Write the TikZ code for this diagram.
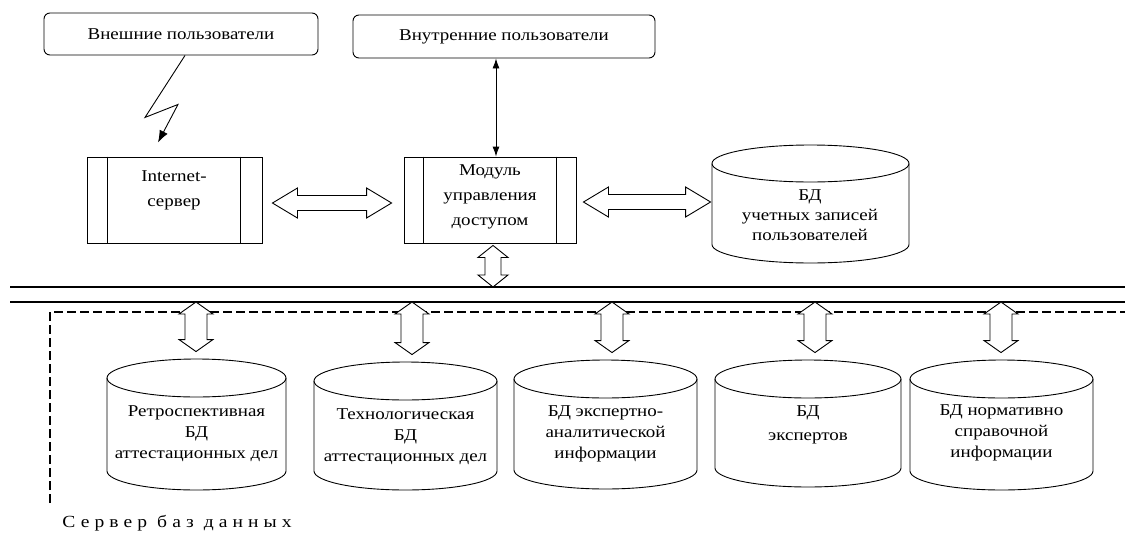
\documentclass[tikz,border=0pt]{standalone}
\usepackage{fontspec}
\setmainfont{Liberation Serif}[FakeStretch=1.15]
\usetikzlibrary{calc,arrows.meta}
\newcommand\HArr[2]{\path[hollow] let \p1=(#1), \p2=(#2) in (\x1,\y1) -- (\x1+25pt,\y1+15pt) -- (\x1+25pt,\y1+7.5pt) -- (\x2-25pt,\y2+7.5pt) -- (\x2-25pt,\y2+15pt) -- (\x2,\y2) -- (\x2-25pt,\y2-15pt) -- (\x2-25pt,\y2-7.5pt) -- (\x1+25pt,\y1-7.5pt) -- (\x1+25pt,\y1-15pt) -- cycle;}
\newcommand\VArr[4]{\path[hollow] let \p1=(#1), \p2=(#2) in (\x1,\y1) -- (\x1+#3,\y1-12pt) -- (\x1+#4,\y1-12pt) -- (\x2+#4,\y2+12pt) -- (\x2+#3,\y2+12pt) -- (\x2,\y2) -- (\x2-#3,\y2+12pt) -- (\x2-#4,\y2+12pt) -- (\x1-#4,\y1-12pt) -- (\x1-#3,\y1-12pt) -- cycle;}
% name, cx, top, bottom, rx, ry
\newcommand\DBcyl[6]{%
  \draw[fill=white] ({#2-#5},{#3+#6}) -- ({#2-#5},{#4-#6})
    arc[start angle=180,end angle=360,x radius=#5pt,y radius=#6pt]
    -- ({#2+#5},{#3+#6})
    arc[start angle=0,end angle=180,x radius=#5pt,y radius=#6pt] -- cycle;
  \draw ({#2-#5},{#3+#6}) arc[start angle=180,end angle=360,x radius=#5pt,y radius=#6pt];
  \node[inner sep=0, minimum width={2*#5pt}, minimum height={(#4-#3)*1pt}] (#1) at ({#2},{(#3+#4)/2}) {};
}
\begin{document}
\begin{tikzpicture}[x=1pt,y=-1pt,line width=0.9pt,
  lbl/.style={font=\fontsize{16.5}{21}\selectfont, align=center, inner sep=0},
  userbox/.style={draw, rounded corners=6pt, inner sep=0},
  srvbox/.style={draw, inner sep=0, minimum height=86pt},
  hollow/.style={draw, fill=white, line width=0.9pt, line join=miter},
  bus/.style={line width=1.4pt},
  frame/.style={line width=1.1pt, dash pattern=on 9pt off 4pt},
  thinarrow/.style={>={Latex[length=10pt,width=7pt]}, <->}]
\useasboundingbox (0,0) rectangle (1125,544);

% top user boxes
\node[userbox, minimum width=274pt, minimum height=42pt] (ext) at (181,34) {};
\node[lbl] (extT) at (ext.center) {Внешние пользователи};
\node[userbox, minimum width=302pt, minimum height=43pt] (int) at (504,36.5) {};
\node[lbl] (intT) at (int.center) {Внутренние пользователи};

% servers
\node[srvbox, minimum width=175pt] (inet) at (174.5,200) {};
\draw ($(inet.north west)+(21,0)$) -- ($(inet.south west)+(21,0)$);
\draw ($(inet.north east)+(-22,0)$) -- ($(inet.south east)+(-22,0)$);
\node[lbl, font=\fontsize{16.5}{25}\selectfont] (inetT) at (174,190) {Internet-\\сервер};

\node[srvbox, minimum width=172pt] (mod) at (490,200) {};
\draw ($(mod.north west)+(20,0)$) -- ($(mod.south west)+(20,0)$);
\draw ($(mod.north east)+(-20,0)$) -- ($(mod.south east)+(-20,0)$);
\node[lbl, font=\fontsize{16.5}{25}\selectfont] (modT) at (490,197) {Модуль\\управления\\доступом};

% accounts DB
\DBcyl{acc}{810.5}{145}{263}{98.5}{18.5}
\node[lbl, font=\fontsize{16.5}{20}\selectfont] (accT) at (810,215) {БД\\учетных записей\\пользователей};

% lightning
\draw[-{Latex[length=12pt,width=9pt]}] ($(ext.south)+(4,0)$) -- ++(-40,62) -- ++(33,-13) -- ++(-20,38) coordinate (lz);

% internal users <-> module
\coordinate (vx) at ($(mod.north)+(6,0)$);
\draw[thinarrow] (vx |- int.south) -- (vx);

% horizontal hollow arrows
\HArr{$(inet.east)+(10,3)$}{$(mod.west)+(-12,3)$}
\HArr{$(mod.east)+(7,2)$}{$(acc.west |- mod.east)+(-1,2)$}

% bus
\coordinate (busA) at (10,287); \coordinate (busAr) at (1125,287);
\coordinate (busB) at (10,302); \coordinate (busBr) at (1125,302);
\draw[bus] (busA) -- (busAr);
\draw[bus] (busB) -- (busBr);

% module <-> bus
\coordinate (m1) at ($(mod.south)+(3,2)$);
\coordinate (m2) at (m1 |- busA);
\VArr{m1}{m2}{15pt}{8pt}

% database server frame
\coordinate (frA) at (50,503);
\coordinate (frB) at (50,312);
\coordinate (frC) at (1125,312);
\draw[frame] (frA) -- (frB) -- (frC);
\node[anchor=west, inner sep=0, font=\fontsize{17}{20}\selectfont\addfontfeature{LetterSpace=30}] (srv) at (62,523) {Сервер баз данных};

% databases
\DBcyl{c1}{196.5}{359}{490}{89.5}{19}
\DBcyl{c2}{405.5}{362}{490}{91.5}{19}
\DBcyl{c3}{605.5}{360}{489}{91.5}{19}
\DBcyl{c4}{808}{360}{487}{93}{19}
\DBcyl{c5}{1001.5}{360}{490}{91.5}{19}
\node[lbl] (c1T) at (196.5,434) {Ретроспективная\\БД\\аттестационных дел};
\node[lbl] (c2T) at (405.5,437) {Технологическая\\БД\\аттестационных дел};
\node[lbl] (c3T) at (605.5,434) {БД экспертно-\\аналитической\\информации};
\node[lbl, font=\fontsize{16.5}{24}\selectfont] (c4T) at (808,425) {БД\\экспертов};
\node[lbl] (c5T) at (1001.5,433) {БД нормативно\\справочной\\информации};

% bus <-> databases
\foreach \i/\xx in {1/196,2/412,3/612,4/815,5/1001}{
  \coordinate (a\i) at (\xx,302);
  \coordinate (b\i) at ($(a\i |- c\i.north)+(0,-7)$);
  \VArr{a\i}{b\i}{17pt}{11pt}
}
\end{tikzpicture}
\end{document}
